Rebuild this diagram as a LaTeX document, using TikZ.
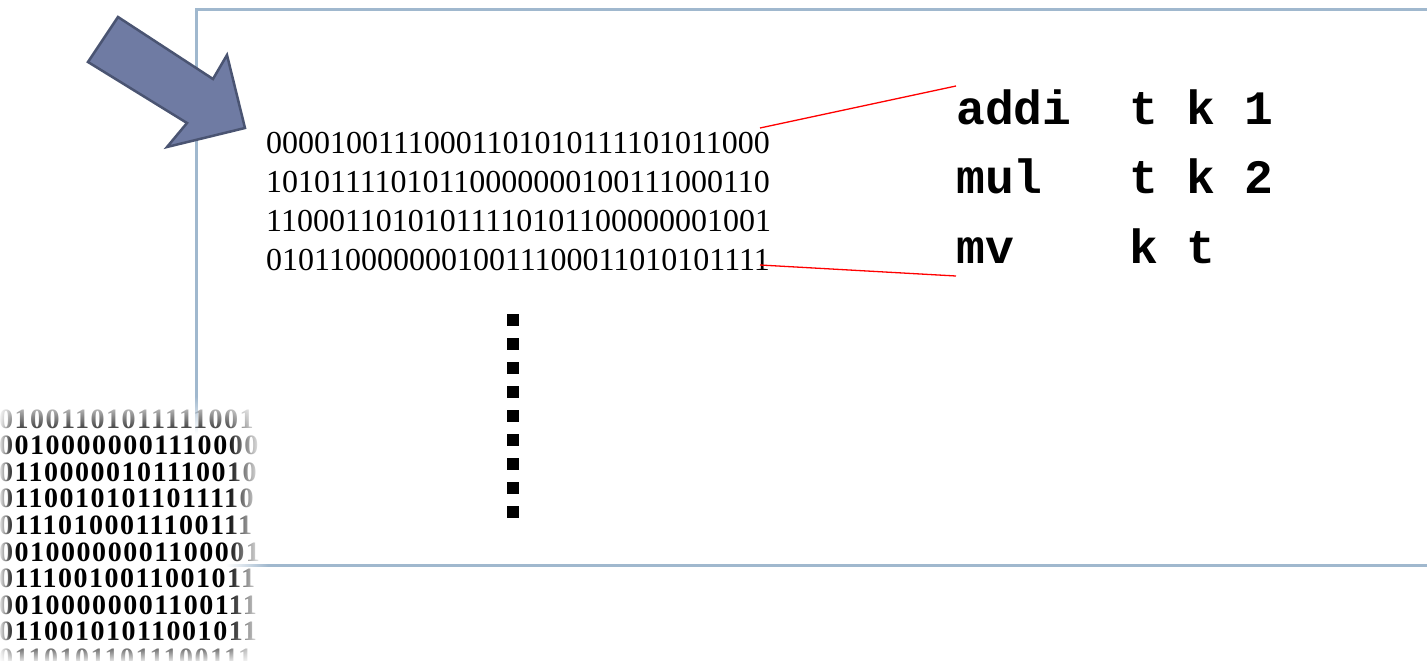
\documentclass[tikz,border=0pt]{standalone}
\usepackage{fontspec}
\setmainfont{Liberation Serif}
\newfontfamily\codefont{Liberation Mono}
\newfontfamily\wallfont[LetterSpace=5.4]{Liberation Serif}
\usetikzlibrary{fadings}

\definecolor{frameblue}{RGB}{160,184,206}
\definecolor{arrowfill}{RGB}{111,123,163}
\definecolor{arrowedge}{RGB}{74,84,114}
\definecolor{linkred}{RGB}{255,0,0}

% soft edges for the bit wall
\tikzfading[name=opaqueleft, left color=transparent!0, right color=transparent!100]
\tikzfading[name=opaqueright, left color=transparent!100, right color=transparent!0]
\tikzfading[name=opaquetop, top color=transparent!0, bottom color=transparent!100]
\tikzfading[name=opaquebottom, top color=transparent!100, bottom color=transparent!0]

\tikzset{
  frame/.style={draw=frameblue, line width=3pt},
  bigarrow/.style={fill=arrowfill, draw=arrowedge, line width=2.5pt, line join=miter},
  bits/.style={anchor=base west, inner sep=0pt, font=\fontsize{32}{39}\selectfont},
  instr/.style={anchor=base west, inner sep=0pt, font=\codefont\bfseries\fontsize{48}{60}\selectfont},
  link/.style={draw=linkred, line width=1.3pt},
  dotbox/.style={fill=black, draw=none, minimum size=12pt, inner sep=0pt},
  wallrow/.style={anchor=base west, inner sep=0pt, font=\wallfont\bfseries\fontsize{28}{27}\selectfont},
  softwhite/.style={fill=white, draw=none},
}

\begin{document}
\begin{tikzpicture}[x=1pt, y=1pt]
\useasboundingbox (0,0) rectangle (1427,-661);

% frame
\draw[frame] (1435,-10) -- (196,-10) -- (196,-565) -- (1435,-565);

% block arrow
\draw[bigarrow] (118,-17) -- (213,-79) -- (227,-55) -- (245,-128)
  -- (167,-147) -- (187,-123) -- (88,-62) -- cycle;

% machine code
\node[bits] (bin1) at (266,-153) {00001001110001101010111101011000};
\node[bits] (bin2) at (266,-192) {10101111010110000000100111000110};
\node[bits] (bin3) at (266,-231) {11000110101011110101100000001001};
\node[bits] (bin4) at (266,-270) {01011000000010011100011010101111};

% assembly
\node[instr] (asm1) at (956,-124) {addi~~t~k~1};
\node[instr] (asm2) at (956,-193.5) {mul~~~t~k~2};
\node[instr] (asm3) at (956,-263) {mv~~~~k~t};

% links between the two views
\coordinate (binTop) at (760,-128);
\coordinate (asmTop) at (956,-86);
\coordinate (binBot) at (760,-265);
\coordinate (asmBot) at (956,-276);
\draw[link] (binTop) -- (asmTop);
\draw[link] (binBot) -- (asmBot);

% vertical ellipsis
\foreach \k in {0,...,8}
  \node[dotbox] (dot\k) at (513,-320-24*\k) {};

% bit wall in the lower left corner
\fill[softwhite] (-2,-396) rectangle (268,-664);
\foreach \row [count=\r from 0] in {
  01001101011111001, 00100000001110000, 01100000101110010,
  01100101011011110, 01110100011100111, 00100000001100001,
  01110010011001011, 00100000001100111, 01100101011001011,
  01101011011100111}
  \node[wallrow] (wall\r) at (-1,-428-26.6*\r) {\row};
\fill[softwhite, path fading=opaqueleft] (-2,-396) rectangle (14,-664);
\fill[softwhite, path fading=opaqueright] (226,-396) rectangle (262,-664);
\fill[softwhite] (262,-396) rectangle (268,-664);
\fill[softwhite, path fading=opaquetop] (-2,-396) rectangle (268,-440);
\fill[softwhite, path fading=opaquebottom] (-2,-636) rectangle (268,-664);
% frame showing through the soft edges
\fill[frameblue, path fading=opaquetop] (194.5,-396) rectangle (197.5,-434);
\fill[frameblue, path fading=opaqueright] (226,-563.5) rectangle (268,-566.5);
\end{tikzpicture}
\end{document}
